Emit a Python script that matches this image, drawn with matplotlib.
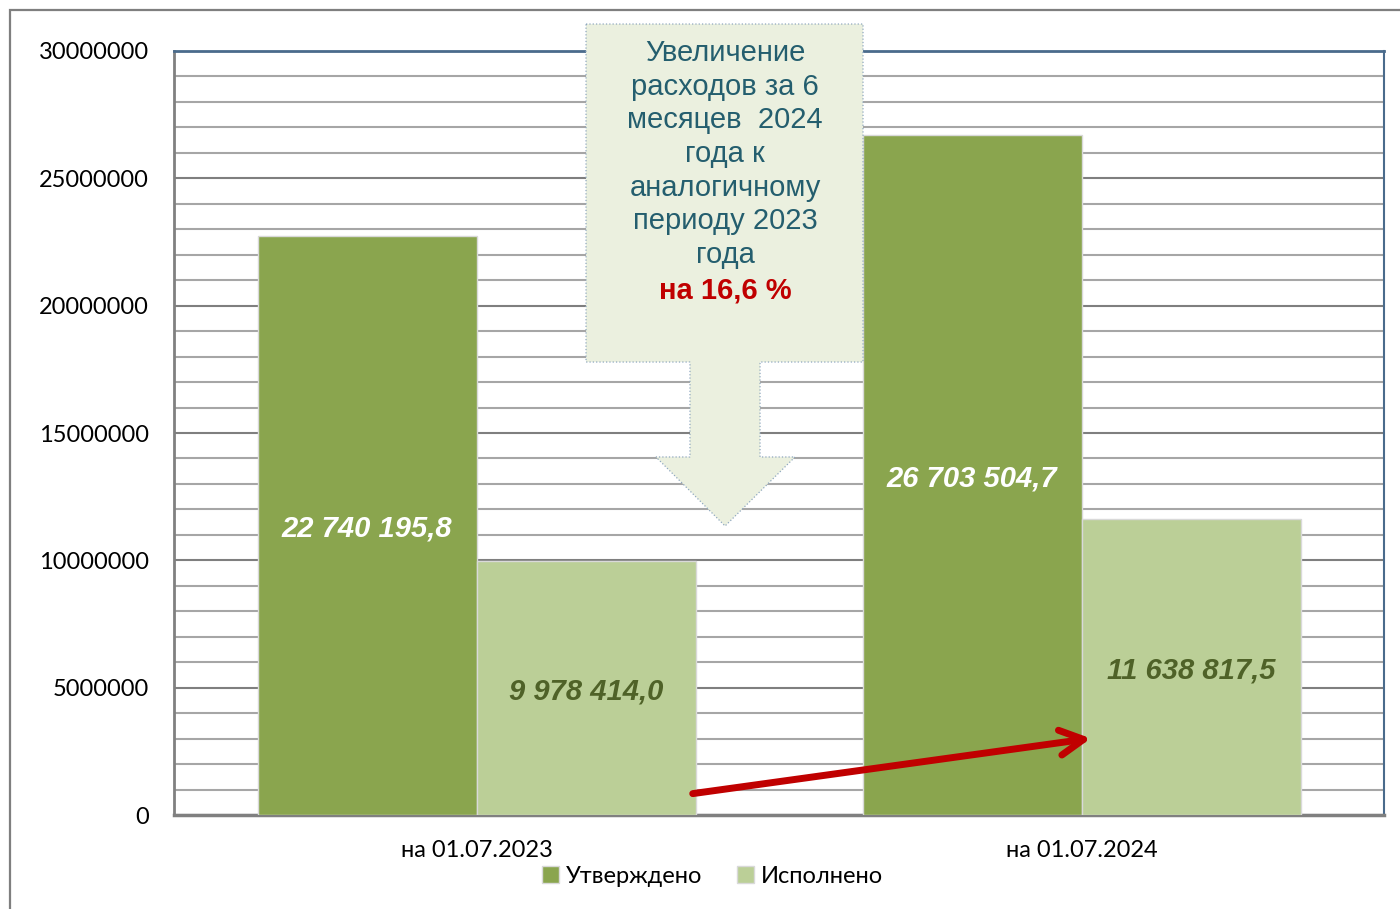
import matplotlib.pyplot as plt
import numpy as np
from matplotlib.patches import Polygon, Rectangle, FancyArrowPatch, Patch
from matplotlib.ticker import MultipleLocator, FuncFormatter

categories = ["на 01.07.2023", "на 01.07.2024"]
approved = [22740195.8, 26703504.7]
executed = [9978414.0, 11638817.5]
series_names = ["Утверждено", "Исполнено"]

callout_lines = ["Увеличение", "расходов за 6", "месяцев  2024", "года к",
                 "аналогичному", "периоду 2023", "года"]
callout_highlight = "на 16,6 %"

c_dark = "#8AA54E"
c_light = "#BBCF97"


def fmt_value(v):
    whole, frac = f"{v:,.1f}".split(".")
    return whole.replace(",", " ") + "," + frac


fig = plt.figure(figsize=(14, 9.09), dpi=100)
ax = fig.add_axes([0.1243, 0.1034, 0.8643, 0.8405])

# outer frame of the chart area
fig.add_artist(Rectangle((10 / 1400, -0.05), 1.1, 1 - 10 / 909 + 0.05,
                         transform=fig.transFigure, fill=False,
                         edgecolor="#7F7F7F", linewidth=1.6))

x = np.arange(len(categories))
w = 0.362
b1 = ax.bar(x - w / 2, approved, width=w, color=c_dark, edgecolor="#D9D9D9",
            linewidth=1, zorder=3)
b2 = ax.bar(x + w / 2, executed, width=w, color=c_light, edgecolor="#D9D9D9",
            linewidth=1, zorder=3)

labs = ax.bar_label(b1, labels=[fmt_value(v) for v in approved], label_type="center",
                    color="white", fontsize=21, fontweight="bold", fontstyle="italic",
                    family="Liberation Sans", zorder=5)
labs += ax.bar_label(b2, labels=[fmt_value(v) for v in executed], label_type="center",
                     color="#4F6228", fontsize=21, fontweight="bold", fontstyle="italic",
                     family="Liberation Sans", zorder=5)
for t in labs:
    t.xyann = (0, -2.5)

ax.set_xlim(-0.5, 1.5)
ax.set_ylim(0, 30000000)
ax.yaxis.set_major_locator(MultipleLocator(5000000))
ax.yaxis.set_minor_locator(MultipleLocator(1000000))
ax.yaxis.set_major_formatter(FuncFormatter(lambda v, p: f"{int(v)}"))
ax.set_axisbelow(True)
ax.grid(axis="y", which="minor", color="#A6A6A6", linewidth=1.5)
ax.grid(axis="y", which="major", color="#7F7F7F", linewidth=1.5)

ax.set_xticks(x)
ax.set_xticklabels(categories, family="Lato", fontsize=17)
ax.tick_params(axis="x", length=0, pad=18)
ax.tick_params(axis="y", which="both", length=0, pad=18, labelsize=17)
for lab in ax.get_yticklabels():
    lab.set_family("Lato")

ax.spines["left"].set_color("#808080")
ax.spines["left"].set_linewidth(2)
ax.spines["bottom"].set_color("#808080")
ax.spines["bottom"].set_linewidth(2.5)
ax.spines["top"].set_color("#4A6B8C")
ax.spines["top"].set_linewidth(2)
ax.spines["right"].set_color("#4A6B8C")
ax.spines["right"].set_linewidth(1.5)

# callout arrow shape
L, R, top, bot = 0.3405, 0.5694, 1.0353, 0.5929
sL, sR, hy = 0.4264, 0.4843, 0.4686
hL, hR, tip = 0.3983, 0.5132, (0.4554, 0.3783)
verts = [(L, top), (R, top), (R, bot), (sR, bot), (sR, hy), (hR, hy), tip,
         (hL, hy), (sL, hy), (sL, bot), (L, bot)]
ax.add_patch(Polygon(verts, closed=True, transform=ax.transAxes,
                     facecolor="#EBF0DF", edgecolor="#8FA8BF", linewidth=0.9,
                     linestyle=":", clip_on=False, zorder=6))

cx = 0.4554
y0 = (815 - 53) / 764
step = 33.7 / 764
for i, line in enumerate(callout_lines):
    ax.text(cx, y0 - i * step, line, transform=ax.transAxes, ha="center",
            va="center", fontsize=21, color="#245E6E", family="Liberation Sans",
            zorder=7)
ax.text(cx, y0 - len(callout_lines) * step - 2 / 764, callout_highlight,
        transform=ax.transAxes, ha="center", va="center", fontsize=21,
        fontweight="bold", color="#C00000", family="Liberation Sans", zorder=7)

# red growth arrow
arr = FancyArrowPatch((0.4264, 0.0275), (0.760, 0.1008), transform=ax.transAxes,
                      arrowstyle="->,head_length=17,head_width=9",
                      color="#C00000", linewidth=5, capstyle="round",
                      joinstyle="round", zorder=8, clip_on=False)
ax.add_patch(arr)

handles = [Patch(facecolor=c_dark, edgecolor="#D9D9D9", label=series_names[0]),
           Patch(facecolor=c_light, edgecolor="#D9D9D9", label=series_names[1])]
fig.legend(handles=handles, loc="center", bbox_to_anchor=(0.509, 0.036),
           ncol=2, frameon=False, prop={"family": "Lato", "size": 17},
           handlelength=0.7, handleheight=0.7, handletextpad=0.3,
           columnspacing=1.5)

fig.savefig("out.png", dpi=100)
